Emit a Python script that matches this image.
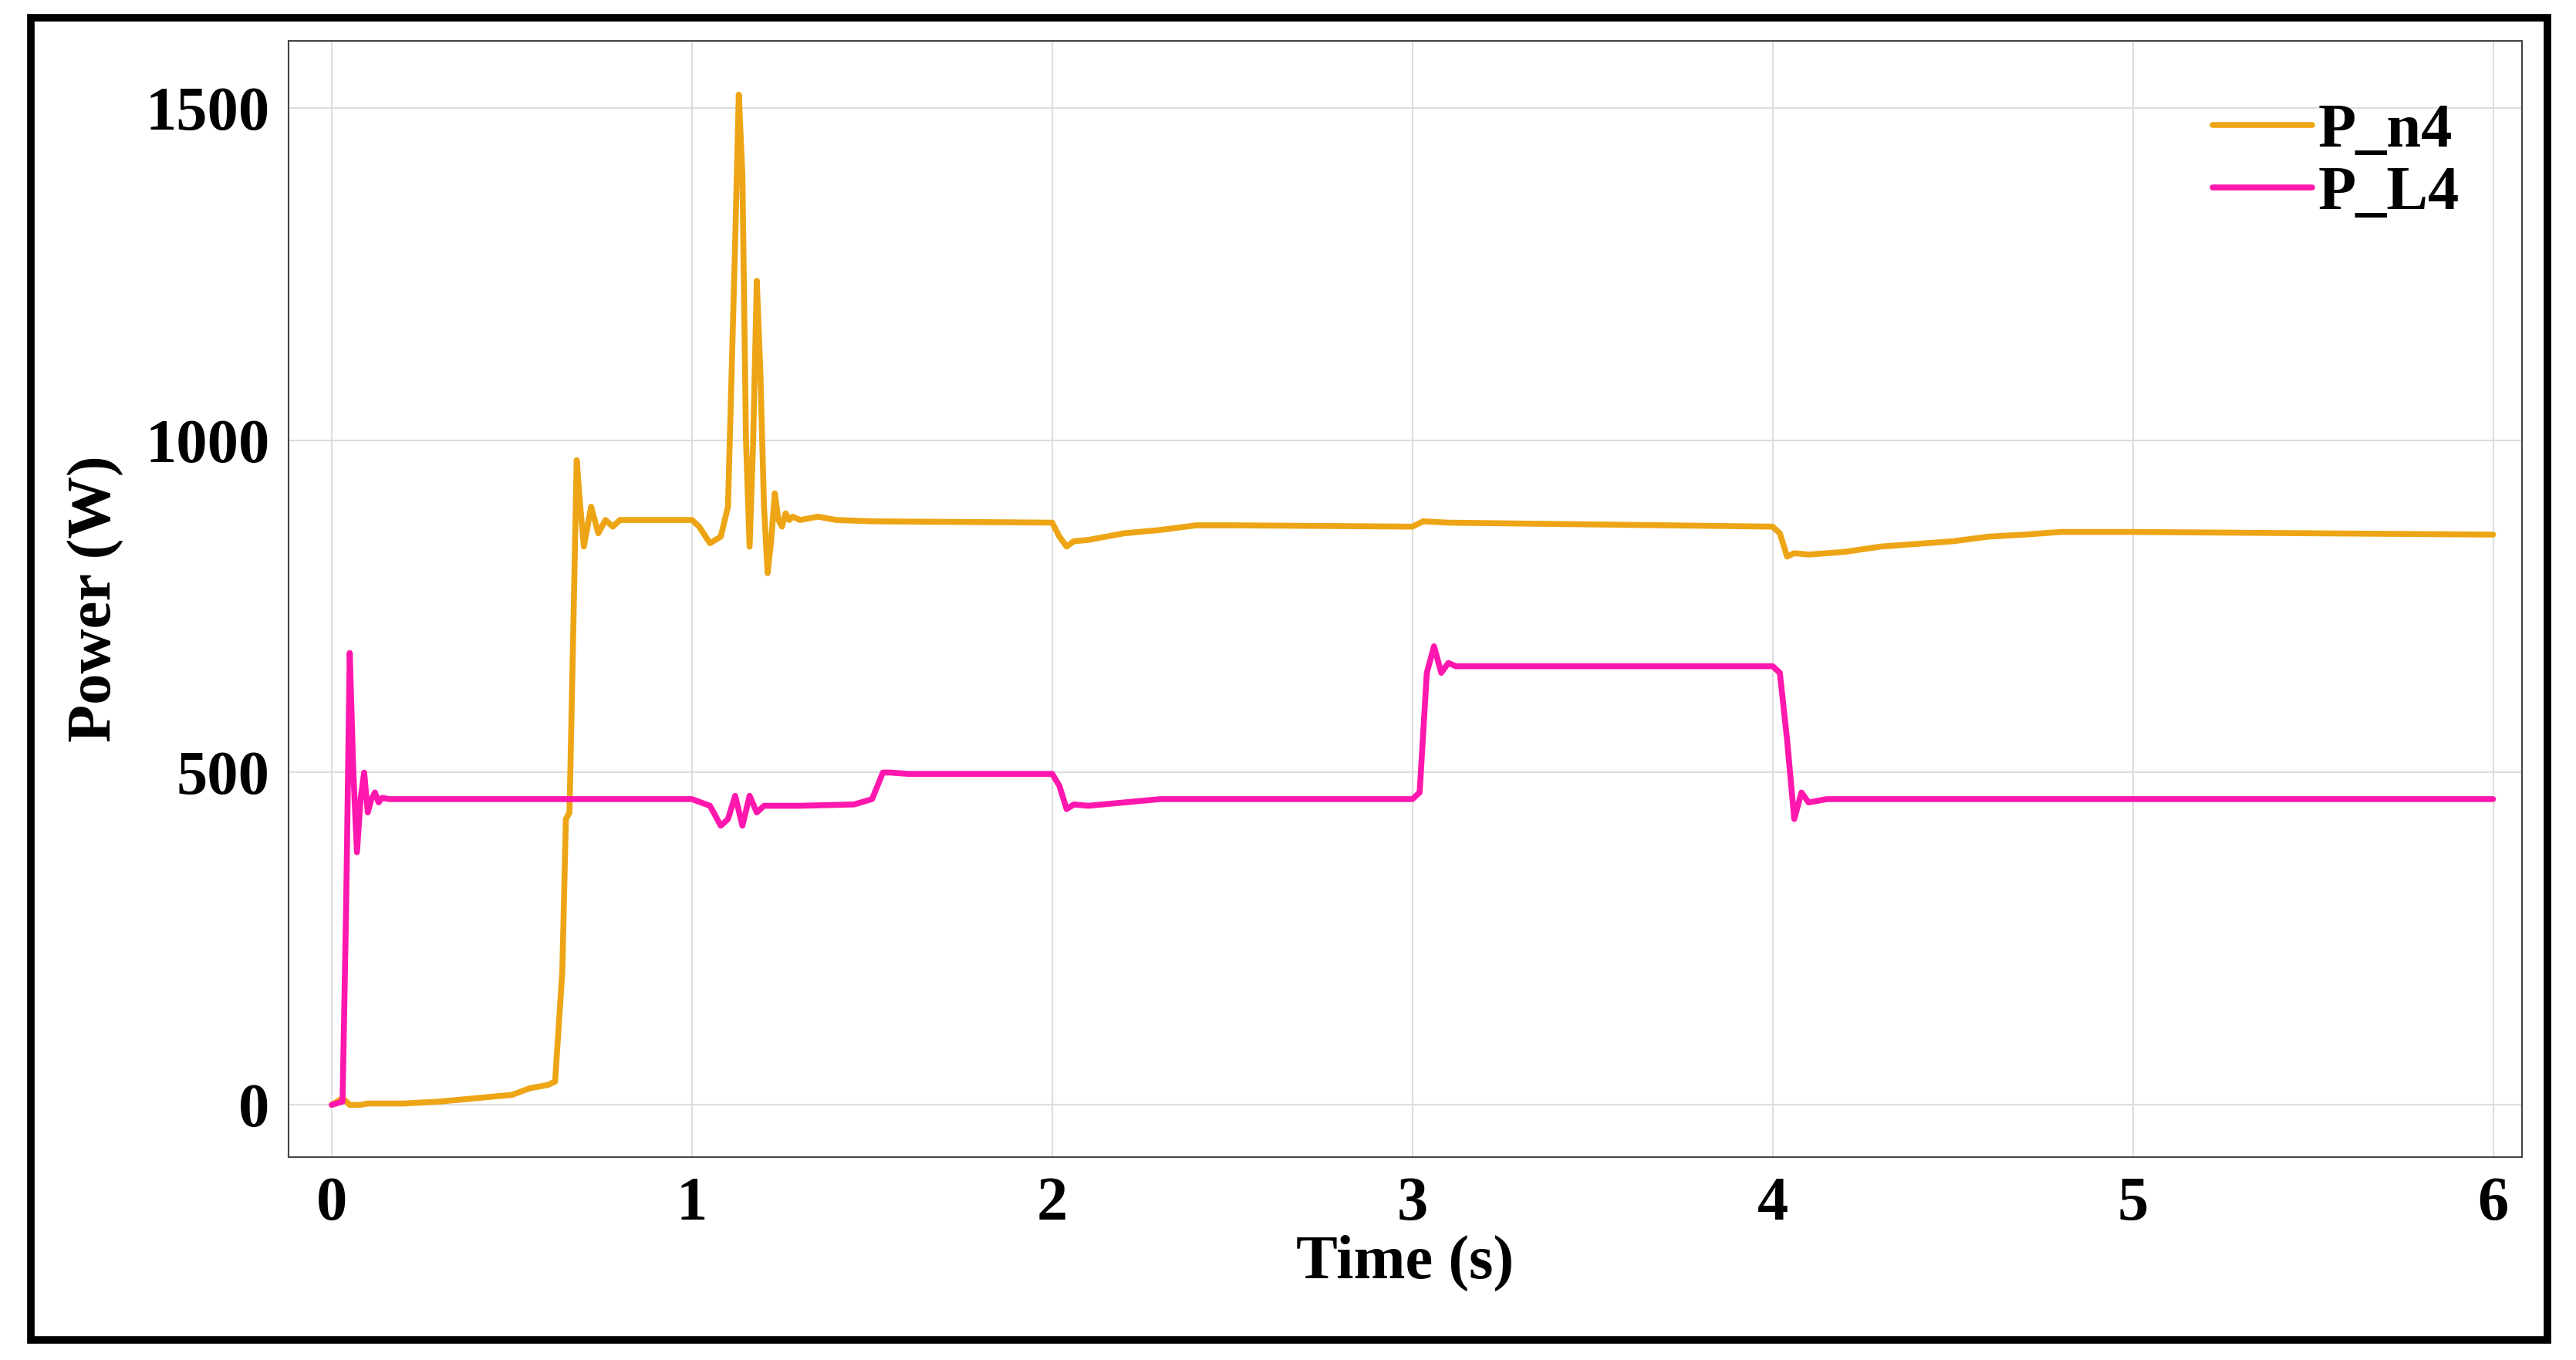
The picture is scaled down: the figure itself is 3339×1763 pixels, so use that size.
import numpy as np, pandas as pd, seaborn as sns, matplotlib
matplotlib.use("Agg")
import matplotlib.pyplot as plt
from matplotlib.patches import Rectangle

t_n4 = [0,0.03,0.05,0.08,0.1,0.2,0.3,0.4,0.5,0.55,0.6,0.62,0.64,0.65,0.66,0.67,0.68,0.69,0.70,0.72,0.74,0.76,0.78,0.80,0.85,0.9,1.0,1.02,1.05,1.08,1.10,1.12,1.13,1.14,1.15,1.16,1.17,1.18,1.19,1.20,1.21,1.22,1.23,1.24,1.25,1.26,1.27,1.28,1.30,1.35,1.4,1.5,2.0,2.02,2.04,2.06,2.1,2.2,2.3,2.4,2.5,3.0,3.03,3.1,4.0,4.02,4.04,4.06,4.1,4.2,4.3,4.5,4.6,4.7,4.8,5,6]
p_n4 = [0,10,0,0,2,2,5,10,15,25,30,35,200,430,440,700,970,900,840,900,860,880,870,880,880,880,880,870,845,855,900,1300,1520,1400,1000,840,1000,1240,1100,900,800,850,920,880,870,890,880,885,880,885,880,878,876,855,840,848,850,860,865,872,872,870,878,876,870,860,825,830,828,832,840,848,855,858,862,862,858]
t_l4 = [0,0.03,0.04,0.05,0.06,0.07,0.08,0.09,0.10,0.11,0.12,0.13,0.14,0.16,0.2,1.0,1.05,1.08,1.1,1.12,1.14,1.16,1.18,1.2,1.22,1.25,1.3,1.45,1.5,1.53,1.55,1.6,2.0,2.02,2.04,2.06,2.1,2.2,2.3,3.0,3.02,3.04,3.06,3.08,3.1,3.12,3.15,4.0,4.02,4.04,4.06,4.08,4.1,4.15,6]
p_l4 = [0,5,300,680,500,380,460,500,440,460,470,455,462,460,460,460,450,420,430,465,420,465,440,450,450,450,450,452,460,500,500,498,498,480,445,452,450,455,460,460,470,650,690,650,665,660,660,660,650,550,430,470,455,460,460]

df = pd.concat([pd.DataFrame({"t": t_n4, "P": p_n4, "s": "P_n4"}),
                pd.DataFrame({"t": t_l4, "P": p_l4, "s": "P_L4"})])

sns.set_style("whitegrid")
plt.rcParams['font.family'] = ['Liberation Serif', 'DejaVu Serif']
plt.rcParams['text.color'] = 'black'
fig = plt.figure(figsize=(33.39, 17.63), dpi=100)
ax = fig.add_axes([0.112, 0.149, 0.867, 0.821])
sns.lineplot(data=df, x="t", y="P", hue="s", palette={"P_n4": "#EDA515", "P_L4": "#FF17AE"},
             linewidth=5.5, ax=ax, sort=False, estimator=None)
ax.set_xlim(-0.12, 6.08); ax.set_ylim(-79, 1601)
ax.set_xticks(range(7)); ax.set_yticks([0, 500, 1000, 1500])
ax.tick_params(labelsize=58, labelcolor="black", pad=14)
for l in ax.get_xticklabels() + ax.get_yticklabels(): l.set_fontweight("bold")
ax.set_xlabel("Time (s)", fontsize=58, fontweight="bold", labelpad=2, color="black")
ax.set_ylabel("Power (W)", fontsize=58, fontweight="bold", color="black", labelpad=20)
ax.grid(color="#dddddd", linewidth=1.5)
for s in ax.spines.values(): s.set_color("#444444"); s.set_linewidth(1.5)
leg = ax.legend(loc="upper right", frameon=False, handlelength=1.6, handletextpad=0.1,
                labelspacing=0.1, borderaxespad=0.6, prop={"weight": "bold", "size": 58})
for h in leg.get_lines(): h.set_linewidth(5.5)
for tx in leg.get_texts(): tx.set_color("black")
fig.patches.append(Rectangle((0.012, 0.015), 0.977, 0.972, transform=fig.transFigure,
                             fill=False, edgecolor="black", linewidth=7))
fig.savefig("out.png", dpi=100)
